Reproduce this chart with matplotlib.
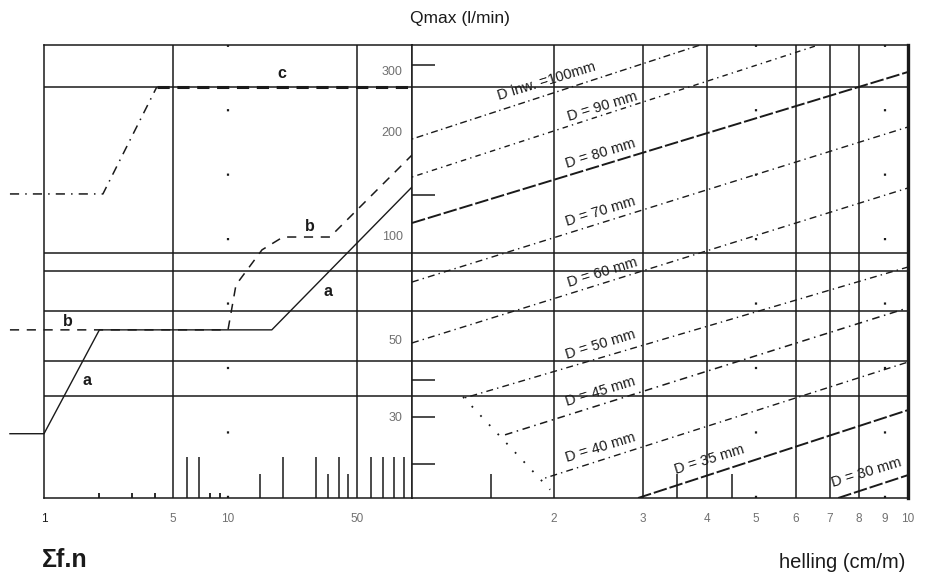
import numpy as np
import matplotlib
matplotlib.use("Agg")
import matplotlib.pyplot as plt
from matplotlib.ticker import NullLocator

plt.rcParams['font.family'] = ['Liberation Sans', 'DejaVu Sans']

# ---- data ----
# left part: sum f.n  ->  Qmax (l/min)
line_a_fn = [0.653, 1.0, 2.0, 17.3, 100]
line_a_q = [27.0, 27.0, 53.9, 53.9, 139.5]
line_b_fn = [0.653, 10.0, 11.05, 15.3, 19.9, 35.8, 100]
line_b_q = [53.9, 53.9, 72.7, 91.8, 100, 100, 172.6]
line_c_left_fn = [0.653, 2.09, 4.1]
line_c_left_q = [133.2, 133.2, 271.4]
line_c_fn = [4.1, 100]
line_c_q = [271.4, 271.4]

grid_q = [271.4, 89.9, 79.8, 61.1, 43.8, 34.7]
fn_grid = [5, 50]
fn_dotted = [10]
fn_ticklabels = [1, 5, 10, 50]
fn_long_ticks = [6, 7, 20, 30, 40, 60, 70, 80, 90]
fn_short_ticks = [15, 35, 45]
fn_dots = [2, 3, 4, 8, 9]
q_labels = [300, 200, 100, 50, 30]

# right part: helling (cm/m) -> Qmax per pipe diameter
slope_grid = [2, 3, 4, 6, 7, 8]
slope_dotted = [5, 9]
slope_ticklabels = [2, 3, 4, 5, 6, 7, 8, 9, 10]
slope_short_ticks = [1.5, 3.5, 4.5]
q_side_ticks = [314, 132, 38.6, 30.2, 22.1]

pipe_names = ["D inw. =100mm", "D = 90 mm", "D = 80 mm", "D = 70 mm", "D = 60 mm",
              "D = 50 mm", "D = 45 mm", "D = 40 mm", "D = 35 mm", "D = 30 mm"]
pipe_h0 = [1.048, 1.048, 1.048, 1.048, 1.048, 1.334, 1.6, 1.92, 2.93, 7.28]
pipe_q0 = [192.0, 149.1, 109.8, 74.1, 49.4, 34.3, 26.8, 20.1, 17.6, 17.6]
pipe_h1 = [3.887, 6.56, 10, 10, 10, 10, 10, 10, 10, 10]
pipe_q1 = [359, 356.5, 300, 208, 138.6, 81.9, 62.4, 43.5, 31.6, 20.5]
label_h = [1.93, 2.489, 2.466, 2.466, 2.489, 2.466, 2.466, 2.466, 4.05, 8.27]
label_q = [282, 237.6, 173.8, 118.1, 78.7, 48.8, 35.7, 24.7, 22.7, 20.9]
envelope_h = [1.322, 1.964]
envelope_q = [34.5, 18.6]

qlim = (17.6, 359)
ink = '#1a1a1a'
grey = '#707070'

fig = plt.figure(figsize=(9.46, 5.76), dpi=100)
axl = fig.add_axes([44 / 946, 78 / 576, 368 / 946, 453 / 576])
axr = fig.add_axes([412 / 946, 78 / 576, 496 / 946, 453 / 576])

for ax in (axl, axr):
    ax.set_xscale('log')
    ax.set_yscale('log')
    ax.set_ylim(*qlim)
    ax.set_yticks([])
    ax.yaxis.set_minor_locator(NullLocator())
    ax.xaxis.set_minor_locator(NullLocator())
    ax.tick_params(axis='x', length=0, pad=11, labelsize=8.5, labelcolor=grey)
    for s in ax.spines.values():
        s.set_linewidth(1.1)
        s.set_color(ink)
    for q in grid_q:
        ax.axhline(q, color=ink, lw=1.1)

axl.set_xlim(1, 100)
axr.set_xlim(1.048, 10)
axr.spines['right'].set_linewidth(2.4)

axl.set_xticks(fn_ticklabels)
axl.set_xticklabels([str(v) for v in fn_ticklabels])
axr.set_xticks(slope_ticklabels)
axr.set_xticklabels([str(v) for v in slope_ticklabels])
axl.get_xticklabels()[0].set_color(ink)

# left grid
for v in fn_grid:
    axl.axvline(v, color=ink, lw=1.1)
for v in fn_dotted:
    axl.axvline(v, color=ink, lw=1.6, ls=(0, (1, 28)))
axl.vlines(fn_long_ticks, qlim[0], 23.1, color=ink, lw=1.1)
axl.vlines(fn_short_ticks, qlim[0], 20.7, color=ink, lw=1.1)
axl.vlines(fn_dots, qlim[0], 18.2, color=ink, lw=1.3)
for q in q_labels:
    axl.text(89, q, str(q), ha='right', va='center', fontsize=9, color=grey)

# curves a, b, c
axl.plot(line_a_fn, line_a_q, color=ink, lw=1.0, clip_on=False)
axl.plot(line_b_fn, line_b_q, color=ink, lw=1.1, ls=(0, (6, 5)), clip_on=False)
axl.plot(line_c_left_fn, line_c_left_q, color=ink, lw=1.1, ls=(0, (6, 4, 1, 4)), clip_on=False)
axl.plot(line_c_fn, line_c_q, color=ink, lw=2.2, ls=(0, (4, 2.5)))

lab = dict(fontsize=11.5, fontweight='bold', color=ink, ha='center', va='center')
axl.text(1.35, 56.8, 'b', **lab)
axl.text(1.71, 38.4, 'a', **lab)
axl.text(27.9, 107.6, 'b', **lab)
axl.text(35.0, 69.4, 'a', **lab)
axl.text(19.7, 296, 'c', **lab)

# right grid
for v in slope_grid:
    axr.axvline(v, color=ink, lw=1.1)
for v in slope_dotted:
    axr.axvline(v, color=ink, lw=1.6, ls=(0, (1, 28)))
axr.vlines(slope_short_ticks, qlim[0], 20.7, color=ink, lw=1.1)
axr.hlines(q_side_ticks, 1.048, 1.164, color=ink, lw=1.1)

# pipe diameter lines
styles = [(0, (1, 2.5, 5, 2.5)), (0, (1, 3, 4, 3)), (0, (7, 1.5)), (0, (5, 3, 1, 3)),
          (0, (5, 3, 1, 3)), (0, (1, 3, 5, 3)), (0, (5, 3, 1, 3)), (0, (1, 3, 5, 3)),
          (0, (7, 1.5)), (0, (7, 1.5))]
widths = [1.0, 1.0, 1.4, 1.0, 1.0, 1.0, 1.1, 1.0, 1.4, 1.4]
for i in range(len(pipe_names)):
    axr.plot([pipe_h0[i], pipe_h1[i]], [pipe_q0[i], pipe_q1[i]],
             color=ink, lw=widths[i], ls=styles[i])
    axr.text(label_h[i], label_q[i], pipe_names[i], rotation=17, rotation_mode='anchor',
             ha='center', va='center', fontsize=10.5, color=ink)
axr.plot(envelope_h, envelope_q, color=ink, lw=1.3, ls=(0, (1, 6)))

fig.text(460 / 946, 1 - 18 / 576, 'Qmax (l/min)', ha='center', va='center', fontsize=12.5, color=ink)
fig.text(905 / 946, 1 - 563 / 576, 'helling (cm/m)', ha='right', va='center', fontsize=14.5, color=ink)
fig.text(42 / 946, 1 - 560 / 576, '\u03a3f.n', ha='left', va='center', fontsize=18,
         fontweight='bold', color=ink)

fig.savefig('out.png', dpi=100)
